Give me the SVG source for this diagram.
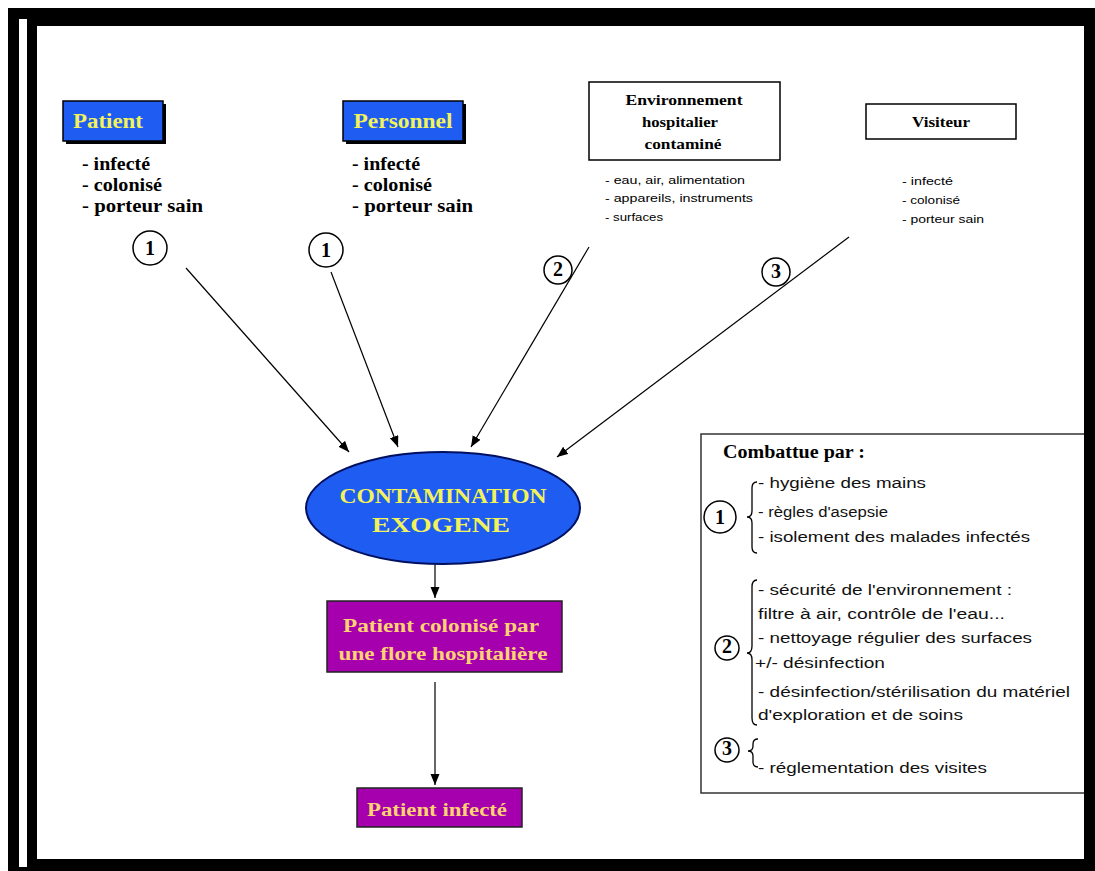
<svg xmlns="http://www.w3.org/2000/svg" width="1095" height="871" viewBox="0 0 1095 871">
<defs>
<marker id="ah" markerUnits="userSpaceOnUse" markerWidth="12" markerHeight="10" refX="11" refY="4.5" orient="auto">
<path d="M0,0 L11,4.5 L0,9 Z" fill="#000"/>
</marker>
<style>
.serif{font-family:"Liberation Serif","Times New Roman",serif;font-weight:bold}
.sans{font-family:"Liberation Sans",Arial,sans-serif}
.blue{fill:#1f5cf2;stroke:#000;stroke-width:1.5}
.ytxt{fill:#f2f25a;font-size:20px}
.pink{fill:#a600ae;stroke:#222;stroke-width:1.5}
.otxt{fill:#ffd272;font-size:19px}
.list{font-size:18px;fill:#000}
.small{font-size:11px;fill:#000}
.circ{fill:#fff;stroke:#000;stroke-width:1.5}
.num{font-size:20px;fill:#000;text-anchor:middle}
.conn{stroke:#000;stroke-width:1.2;fill:none}
.item{font-size:14px;fill:#111}
.brace{stroke:#000;stroke-width:1.3;fill:none}
</style>
</defs>
<rect width="1095" height="871" fill="#fff"/>

<g id="connectors">
<line class="conn" x1="186" y1="268" x2="349" y2="452" marker-end="url(#ah)"/>
<line class="conn" x1="331" y1="272" x2="398" y2="447" marker-end="url(#ah)"/>
<line class="conn" x1="589" y1="247" x2="471" y2="447" marker-end="url(#ah)"/>
<line class="conn" x1="849" y1="237" x2="557" y2="457" marker-end="url(#ah)"/>
<line class="conn" x1="435" y1="563" x2="435" y2="598" marker-end="url(#ah)"/>
<line class="conn" x1="435" y1="682" x2="435" y2="785" marker-end="url(#ah)"/>
</g>

<g id="patient">
<rect x="66" y="104" width="100" height="40" fill="#000"/>
<rect class="blue" x="63" y="101" width="100" height="40"/>
<text class="serif ytxt" x="108" y="128" text-anchor="middle" textLength="70" lengthAdjust="spacingAndGlyphs">Patient</text>
<text class="serif list" x="82" y="170" textLength="68" lengthAdjust="spacingAndGlyphs">- infecté</text>
<text class="serif list" x="82" y="191" textLength="80" lengthAdjust="spacingAndGlyphs">- colonisé</text>
<text class="serif list" x="82" y="212" textLength="121" lengthAdjust="spacingAndGlyphs">- porteur sain</text>
</g>

<g id="personnel">
<rect x="346" y="104" width="120" height="40" fill="#000"/>
<rect class="blue" x="343" y="101" width="120" height="40"/>
<text class="serif ytxt" x="403" y="128" text-anchor="middle" textLength="99" lengthAdjust="spacingAndGlyphs">Personnel</text>
<text class="serif list" x="352" y="170" textLength="68" lengthAdjust="spacingAndGlyphs">- infecté</text>
<text class="serif list" x="352" y="191" textLength="80" lengthAdjust="spacingAndGlyphs">- colonisé</text>
<text class="serif list" x="352" y="212" textLength="121" lengthAdjust="spacingAndGlyphs">- porteur sain</text>
</g>

<g id="environnement">
<rect x="589" y="82" width="191" height="78" fill="#fff" stroke="#000" stroke-width="1.5"/>
<text class="serif" font-size="15" x="684" y="105" text-anchor="middle" textLength="117" lengthAdjust="spacingAndGlyphs">Environnement</text>
<text class="serif" font-size="15" x="680" y="127" text-anchor="middle" textLength="76" lengthAdjust="spacingAndGlyphs">hospitalier</text>
<text class="serif" font-size="15" x="683" y="149" text-anchor="middle" textLength="77" lengthAdjust="spacingAndGlyphs">contaminé</text>
<text class="sans small" x="605" y="184" textLength="140" lengthAdjust="spacingAndGlyphs">- eau, air, alimentation</text>
<text class="sans small" x="605" y="202" textLength="148" lengthAdjust="spacingAndGlyphs">- appareils, instruments</text>
<text class="sans small" x="605" y="221" textLength="58" lengthAdjust="spacingAndGlyphs">- surfaces</text>
</g>

<g id="visiteur">
<rect x="866" y="104" width="150" height="35" fill="#fff" stroke="#000" stroke-width="1.5"/>
<text class="serif" font-size="15" x="941" y="127" text-anchor="middle" textLength="58" lengthAdjust="spacingAndGlyphs">Visiteur</text>
<text class="sans small" x="902" y="185" textLength="51" lengthAdjust="spacingAndGlyphs">- infecté</text>
<text class="sans small" x="902" y="204" textLength="58" lengthAdjust="spacingAndGlyphs">- colonisé</text>
<text class="sans small" x="902" y="223" textLength="82" lengthAdjust="spacingAndGlyphs">- porteur sain</text>
</g>

<g id="labels">
<circle class="circ" cx="150" cy="248" r="17"/>
<text class="serif num" x="150" y="255">1</text>
<circle class="circ" cx="326" cy="250" r="17"/>
<text class="serif num" x="326" y="257">1</text>
<circle class="circ" cx="558" cy="270" r="14"/>
<text class="serif num" font-size="17" x="558" y="276">2</text>
<circle class="circ" cx="776" cy="272" r="14"/>
<text class="serif num" font-size="17" x="776" y="278">3</text>
</g>

<g id="contamination">
<ellipse cx="443" cy="508" rx="137" ry="56" fill="#1f5cf2" stroke="#001060" stroke-width="2"/>
<text class="serif ytxt" font-size="22" x="443" y="503" text-anchor="middle" textLength="207" lengthAdjust="spacingAndGlyphs">CONTAMINATION</text>
<text class="serif ytxt" font-size="22" x="441" y="532" text-anchor="middle" textLength="138" lengthAdjust="spacingAndGlyphs">EXOGENE</text>
</g>

<g id="colonise">
<rect class="pink" x="327" y="601" width="235" height="71"/>
<text class="serif otxt" x="441" y="632" text-anchor="middle" textLength="196" lengthAdjust="spacingAndGlyphs">Patient colonisé par</text>
<text class="serif otxt" x="443" y="660" text-anchor="middle" textLength="209" lengthAdjust="spacingAndGlyphs">une flore hospitalière</text>
</g>

<g id="infecte">
<rect class="pink" x="357" y="788" width="165" height="39"/>
<text class="serif otxt" x="437" y="816" text-anchor="middle" textLength="140" lengthAdjust="spacingAndGlyphs">Patient infecté</text>
</g>

<g id="combattue">
<rect x="701" y="434" width="400" height="359" fill="#fff" stroke="#333" stroke-width="1.5"/>
<text class="serif" font-size="18" x="723" y="458" textLength="142" lengthAdjust="spacingAndGlyphs">Combattue par :</text>
<circle class="circ" cx="720" cy="517" r="16"/>
<text class="serif num" x="720" y="524">1</text>
<path class="brace" d="M757,482 Q752,482 752,488 L752,511 Q752,517 747,517 Q752,517 752,523 L752,547 Q752,553 757,553"/>
<text class="sans item" x="758" y="488" textLength="168" lengthAdjust="spacingAndGlyphs">- hygiène des mains</text>
<text class="sans item" x="758" y="517" textLength="130" lengthAdjust="spacingAndGlyphs">- règles d'asepsie</text>
<text class="sans item" x="758" y="542" textLength="272" lengthAdjust="spacingAndGlyphs">- isolement des malades infectés</text>

<circle class="circ" cx="727" cy="648" r="12"/>
<text class="serif num" font-size="14" x="727" y="653">2</text>
<path class="brace" d="M757,580 Q752,580 752,587 L752,646 Q752,653 747,653 Q752,653 752,660 L752,718 Q752,725 757,725"/>
<text class="sans item" x="758" y="595" textLength="254" lengthAdjust="spacingAndGlyphs">- sécurité de l'environnement :</text>
<text class="sans item" x="758" y="619" textLength="247" lengthAdjust="spacingAndGlyphs">filtre à air, contrôle de l'eau...</text>
<text class="sans item" x="758" y="643" textLength="274" lengthAdjust="spacingAndGlyphs">- nettoyage régulier des surfaces</text>
<text class="sans item" x="755" y="668" textLength="130" lengthAdjust="spacingAndGlyphs">+/- désinfection</text>
<text class="sans item" x="758" y="697" textLength="312" lengthAdjust="spacingAndGlyphs">- désinfection/stérilisation du matériel</text>
<text class="sans item" x="758" y="720" textLength="205" lengthAdjust="spacingAndGlyphs">d'exploration et de soins</text>

<circle class="circ" cx="727" cy="750" r="12"/>
<text class="serif num" font-size="14" x="727" y="755">3</text>
<path class="brace" d="M758,739 Q753,739 753,744 L753,746 Q753,751 748,751 Q753,751 753,756 L753,762 Q753,767 758,767"/>
<text class="sans item" x="758" y="773" textLength="229" lengthAdjust="spacingAndGlyphs">- réglementation des visites</text>
</g>

<g id="frame">
<path d="M8,8 H1095 V871 H8 Z M37,26 V859 H1084 V26 Z" fill="#000" fill-rule="evenodd"/>
<rect x="19" y="19" width="8" height="848" fill="#fff"/>
</g>
</svg>
